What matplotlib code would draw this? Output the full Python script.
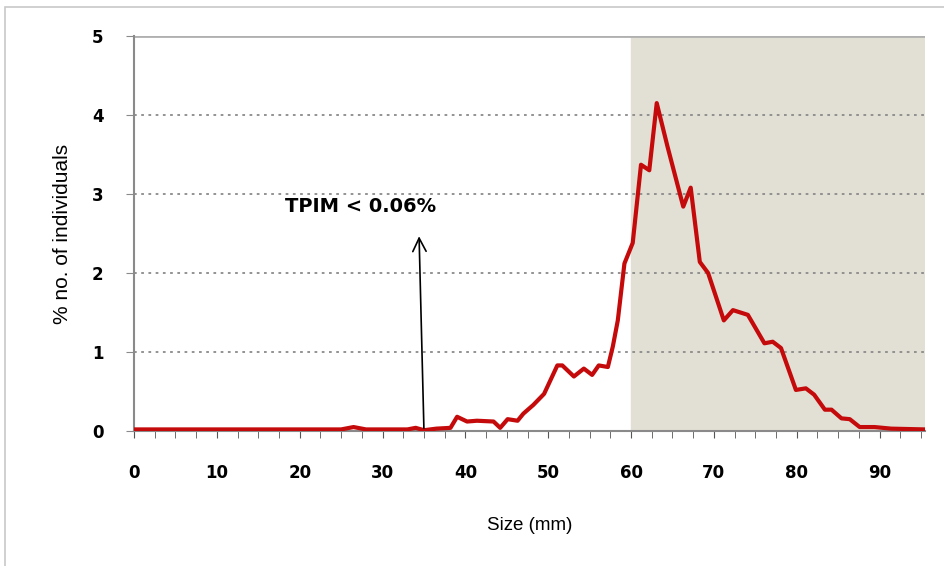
import matplotlib.pyplot as plt
from matplotlib.patches import Rectangle

# size (mm) and % of individuals
size_mm = [0, 5, 10, 15, 20, 25, 26.5, 28, 30, 33, 34, 35, 36.5, 38.2, 39, 40.2, 41.4,
           43.4, 44.2, 45.1, 46.3, 47, 48.2, 49.5, 51.1, 51.7, 53.1, 54.3, 55.3, 56.1,
           57.2, 57.8, 58.4, 59.2, 60.2, 61.2, 62.2, 63.1, 64.4, 66.3, 67.2, 68.3, 69.3,
           71.2, 72.3, 74.1, 76.1, 77.1, 78.1, 79.9, 81.1, 82.1, 83.4, 84.2, 85.4, 86.4,
           87.6, 89.4, 91.4, 95.5]
pct_ind = [0.02, 0.02, 0.02, 0.02, 0.02, 0.02, 0.05, 0.02, 0.02, 0.02, 0.04, 0.01, 0.03,
           0.04, 0.18, 0.12, 0.13, 0.12, 0.04, 0.15, 0.13, 0.22, 0.33, 0.47, 0.83, 0.83,
           0.69, 0.79, 0.71, 0.83, 0.81, 1.07, 1.4, 2.12, 2.38, 3.37, 3.3, 4.15, 3.6,
           2.84, 3.08, 2.14, 2.0, 1.4, 1.53, 1.47, 1.11, 1.13, 1.05, 0.52, 0.54, 0.46,
           0.27, 0.27, 0.16, 0.15, 0.05, 0.05, 0.03, 0.02]

xticks_major = [0, 10, 20, 30, 40, 50, 60, 70, 80, 90]
yticks = [0, 1, 2, 3, 4, 5]

fig = plt.figure(figsize=(9.44, 5.66), dpi=100)
# light frame around the chart area
fig.patches.append(Rectangle((5 / 944, -0.1), 1.2, 1 - 7 / 566 + 0.1, transform=fig.transFigure,
                             fill=False, edgecolor='#c8c8c8', linewidth=1.2))

ax = fig.add_axes([0.142, 0.2385, 0.838, 0.698])
ax.axvspan(60, 95.5, color='#e2e0d5', zorder=0)
ax.plot(size_mm, pct_ind, color='#c40a0a', linewidth=3, zorder=3)

ax.set_xlim(0, 95.5)
ax.set_ylim(0, 5)

for y in [1, 2, 3, 4]:
    ax.axhline(y, color='#8a8a8a', linestyle=(0, (1.5, 2.5)), linewidth=1.3, zorder=1)
ax.axhline(5, color='#b0b0b0', linewidth=2, zorder=1)

for side in ['top', 'right']:
    ax.spines[side].set_visible(False)
for side in ['left', 'bottom']:
    ax.spines[side].set_color('#8a8a8a')
    ax.spines[side].set_linewidth(1.5)

ax.set_xticks(xticks_major)
ax.set_xticks([v * 2.5 for v in range(39)], minor=True)
ax.set_yticks(yticks)
ax.tick_params(axis='x', which='both', direction='out', length=5, color='#555555', pad=19,
               labelsize=12)
ax.tick_params(axis='y', direction='out', length=6, color='#8a8a8a', pad=16, labelsize=12)
for lbl in ax.get_xticklabels() + ax.get_yticklabels():
    lbl.set_fontweight('heavy')

ax.set_xlabel('Size (mm)', fontsize=13.5, family='Liberation Sans', labelpad=25)
ax.set_ylabel('% no. of individuals', fontsize=15, family='Liberation Sans', labelpad=14)

ax.annotate('', xy=(34.4, 2.5), xytext=(35, 0),
            arrowprops=dict(arrowstyle='->', color='black', lw=1.2, mutation_scale=24))
ax.text(27.4, 2.84, 'TPIM < 0.06%', fontsize=14, fontweight='heavy', ha='center', va='center')

plt.savefig('out.png', dpi=100)
